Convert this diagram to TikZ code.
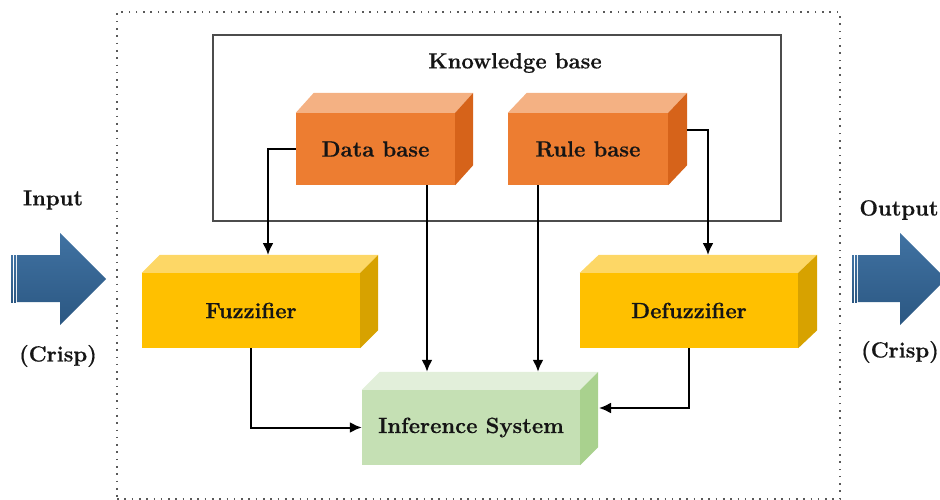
\documentclass[tikz,border=0pt]{standalone}
\usepackage{fontspec}
\newfontfamily\heavyfont{Latin Modern Roman}[BoldFeatures={FakeBold=0.6}]
\usetikzlibrary{calc,arrows.meta}
\definecolor{orF}{HTML}{ED7D31}
\definecolor{orT}{HTML}{F4B183}
\definecolor{orS}{HTML}{D6631A}
\definecolor{yeF}{HTML}{FFC000}
\definecolor{yeT}{HTML}{FDD766}
\definecolor{yeS}{HTML}{D7A200}
\definecolor{grF}{HTML}{C5E0B4}
\definecolor{grT}{HTML}{E2EFDA}
\definecolor{grS}{HTML}{A9D18E}
\definecolor{blA}{HTML}{4072A2}
\definecolor{blB}{HTML}{2B5782}
\definecolor{txt}{HTML}{151515}
\newcommand\cubefaces[5]{%
  \fill[#4] (#1.north west) -- ++(#2,-#3) -- ($(#1.north east)+(#2,-#3)$) -- (#1.north east) -- cycle;
  \fill[#5] (#1.north east) -- ++(#2,-#3) -- ($(#1.south east)+(#2,-#3)$) -- (#1.south east) -- cycle;}
\tikzset{
  lbl/.style={font=\heavyfont\fontsize{22}{25}\selectfont\bfseries, text=txt, inner sep=0pt},
  face/.style={lbl, rectangle, draw=none},
  arr/.style={-{Latex[length=12pt,width=11pt]}, line width=2pt, draw=black},
  bigarrow/.style={top color=blA, bottom color=blB, draw=none}
}
\begin{document}
\begin{tikzpicture}[x=1pt,y=-1pt]
\useasboundingbox (0,0) rectangle (940,500);
% outer dotted frame
\node[draw=black!65, line width=1.6pt, dash pattern=on 1.6pt off 5.7pt, minimum width=723pt, minimum height=487pt, inner sep=0pt] (frame) at (478.5,255.5) {};
% knowledge base frame
\node[draw=black!70, line width=1.1pt, minimum width=568pt, minimum height=186pt, inner sep=0pt] (kb) at (497,128) {};
\node[lbl] (kbl) at (515,63) {Knowledge base};
% boxes
\node[face, fill=orF, minimum width=159pt, minimum height=72pt] (db) at (375.5,149) {Data base};
\cubefaces{db}{18}{20}{orT}{orS}
\node[face, fill=orF, minimum width=160pt, minimum height=72pt] (rb) at (588,149) {Rule base};
\cubefaces{rb}{19}{20}{orT}{orS}
\node[face, fill=yeF, minimum width=218pt, minimum height=75pt] (fuz) at (251,310.5) {Fuzzifier};
\cubefaces{fuz}{18}{18}{yeT}{yeS}
\node[face, fill=yeF, minimum width=218pt, minimum height=75pt] (def) at (689,310.5) {Defuzzifier};
\cubefaces{def}{19}{18}{yeT}{yeS}
\node[face, fill=grF, minimum width=218pt, minimum height=75pt] (inf) at (471,427.5) {Inference System};
\cubefaces{inf}{18}{18}{grT}{grS}
% connector end points
\coordinate (fuzin) at (268,255);
\coordinate (inftop) at ($(inf.north)+(0,-18)$);
\coordinate (rbside) at (687,130);
\coordinate (defin) at (708,255);
\coordinate (infside) at (599,408);
% connectors
\draw[arr] (db.west) -| (fuzin);
\draw[arr] ([xshift=51.5pt]db.south) -- ([xshift=51.5pt]db.south |- inftop);
\draw[arr] ([xshift=-50pt]rb.south) -- ([xshift=-50pt]rb.south |- inftop);
\draw[arr] (rbside) -| (defin);
\draw[arr] (fuz.south) |- (inf.west);
\draw[arr] (def.south) |- (infside);
% input arrow
\shade[bigarrow] (16.8,255) -- (60,255) -- (60,233) -- (106,279) -- (60,325) -- (60,302) -- (16.8,302) -- cycle;
\shade[bigarrow] (11.2,255) rectangle (12.9,302);
\shade[bigarrow] (14.1,255) rectangle (15.8,302);
\node[lbl] (inl) at (53,200) {Input};
\node[lbl] (incr) at (58,356) {(Crisp)};
% output arrow
\shade[bigarrow] (857.8,255) -- (900,255) -- (900,233) -- (946,279) -- (900,325) -- (900,302) -- (857.8,302) -- cycle;
\shade[bigarrow] (852.2,255) rectangle (853.9,302);
\shade[bigarrow] (855.1,255) rectangle (856.8,302);
\node[lbl] (outl) at (899,210) {Output};
\node[lbl] (outcr) at (900,352) {(Crisp)};
\end{tikzpicture}
\end{document}
